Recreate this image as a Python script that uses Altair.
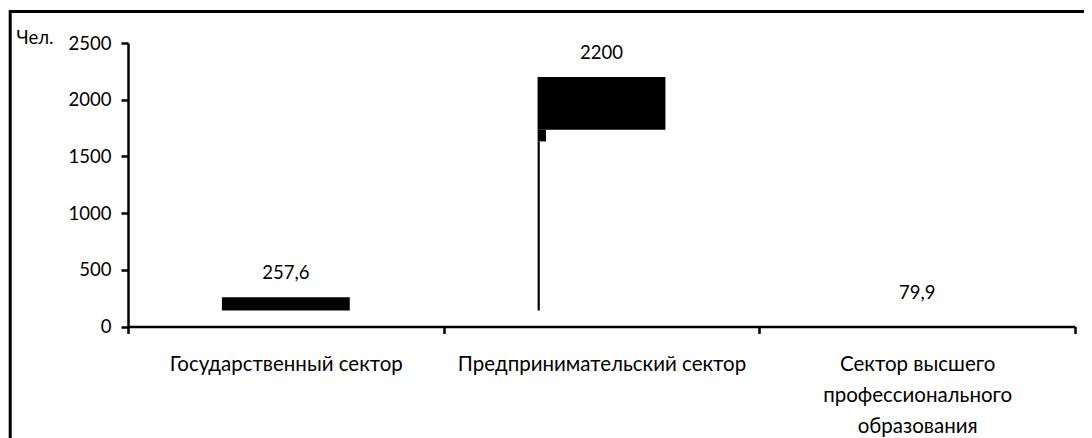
import altair as alt
import pandas as pd

# ---- data ----
categories = [
    "Государственный сектор",
    "Предпринимательский сектор",
    "Сектор высшего профессионального образования",
]
values = [257.6, 2200, 79.9]

# visible pieces of the (broken) bars as they appear in the reference
body_category = ["Государственный сектор", "Предпринимательский сектор"]
body_low = [141, 1735]
body_high = [257.6, 2200]

stub_category = ["Предпринимательский сектор"]
stub_low = [1632]
stub_high = [1735]

stem_category = ["Предпринимательский сектор"]
stem_low = [141]
stem_high = [1632]

label_lines = {
    "Сектор высшего профессионального образования": ["Сектор высшего", "профессионального", "образования"],
}

y_ticks = [0, 500, 1000, 1500, 2000, 2500]

# ---- tables ----
vals_df = pd.DataFrame({"category": categories, "value": values})
body_df = pd.DataFrame({"category": body_category, "low": body_low, "high": body_high})
stub_df = pd.DataFrame({"category": stub_category, "low": stub_low, "high": stub_high})
stem_df = pd.DataFrame({"category": stem_category, "low": stem_low, "high": stem_high})

FONT = "Lato"
W, H = 947, 283.5

label_expr = "datum.label"
for k, lines in label_lines.items():
    arr = "[" + ",".join("'" + s + "'" for s in lines) + "]"
    label_expr = f"datum.value == '{k}' ? {arr} : ({label_expr})"

x_axis = alt.Axis(
    title=None,
    labelAngle=0,
    labelFont=FONT,
    labelFontSize=20.5,
    labelColor="black",
    labelLineHeight=31,
    labelPadding=21,
    labelExpr=label_expr,
    labelLimit=400,
    tickBand="extent",
    tickSize=7,
    tickWidth=2.5,
    tickColor="black",
    domainColor="black",
    domainWidth=2.5,
    grid=False,
)
y_axis = alt.Axis(
    title="Чел.",
    titleAngle=0,
    titleX=-112,
    titleY=0,
    titleAlign="left",
    titleBaseline="alphabetic",
    titleFont=FONT,
    titleFontSize=18.5,
    titleFontWeight="normal",
    titleColor="black",
    values=y_ticks,
    format="d",
    labelFont=FONT,
    labelFontSize=18.5,
    labelColor="black",
    labelPadding=10,
    tickSize=7,
    tickWidth=2.5,
    tickColor="black",
    domainColor="black",
    domainWidth=2.5,
    grid=False,
)

x_scale = alt.Scale(paddingInner=0, paddingOuter=0)
y_scale = alt.Scale(domain=[0, 2500], nice=False)


def xenc():
    return alt.X("category:N", sort=categories, scale=x_scale, axis=x_axis)


def yenc(field):
    return alt.Y(field, scale=y_scale, axis=y_axis)


body = alt.Chart(body_df).mark_bar(color="black", width=alt.RelativeBandSize(0.405)).encode(
    x=xenc(), y=yenc("low:Q"), y2="high:Q",
)
stub = alt.Chart(stub_df).mark_bar(color="black", width=8.4, xOffset=-59.7).encode(
    x=xenc(), y=yenc("low:Q"), y2="high:Q",
)
stem = alt.Chart(stem_df).mark_bar(color="black", width=2.2, xOffset=-62.8).encode(
    x=xenc(), y=yenc("low:Q"), y2="high:Q",
)
text = alt.Chart(vals_df).transform_calculate(
    lbl="replace(toString(datum.value), '.', ',')"
).mark_text(font=FONT, fontSize=18.5, color="black", baseline="alphabetic", dy=-18).encode(
    x=xenc(), y=yenc("value:Q"), text="lbl:N",
)

frame = alt.Chart(alt.Data(values=[{"frame": 1}])).mark_rect(
    fill=None, stroke="black", strokeWidth=3
).encode(
    x=alt.value(-117.8), x2=alt.value(1300), y=alt.value(-31.5), y2=alt.value(700)
)

chart = alt.layer(frame, body, stub, stem, text).properties(
    width=W,
    height=H,
    autosize=alt.AutoSizeParams(type="none"),
    padding={"left": 120, "top": 35, "right": 9, "bottom": 111.5},
    background="white",
).configure_view(stroke=None)

chart.save("out.html", embed_options={"renderer": "svg", "actions": False})
